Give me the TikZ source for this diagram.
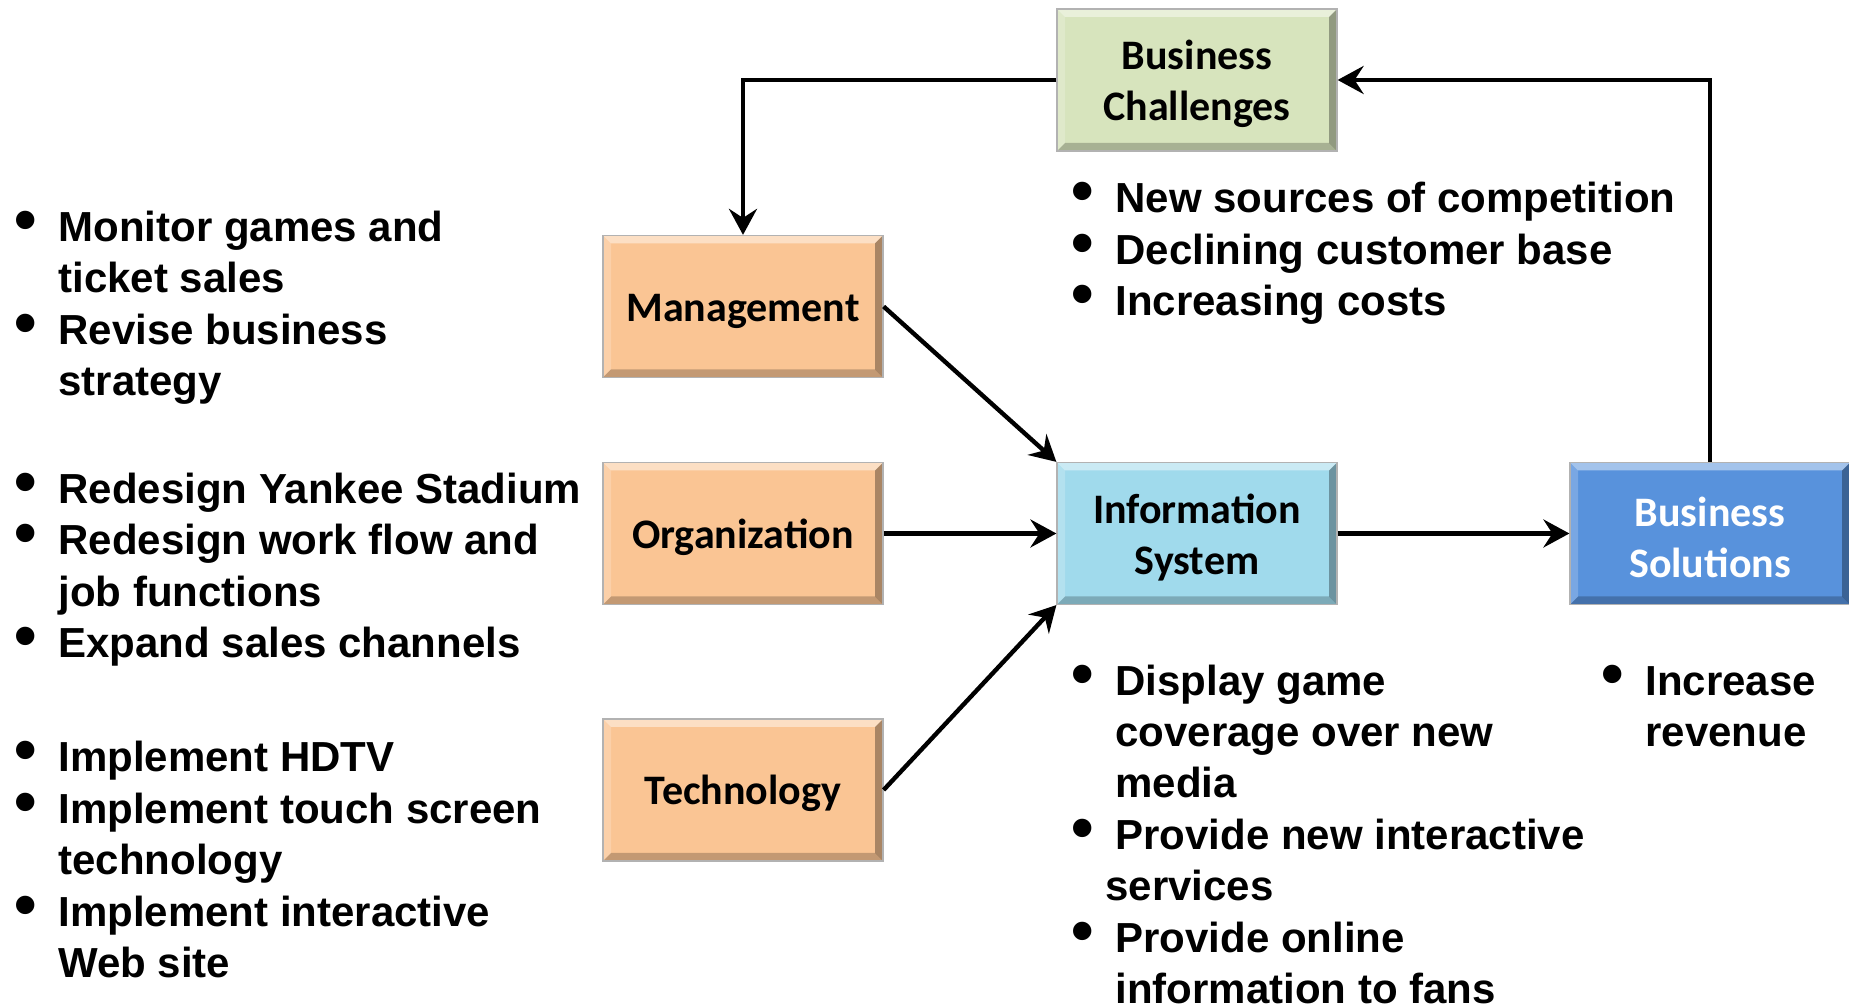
\documentclass[tikz,border=0pt]{standalone}
\usepackage{fontspec}
\setmainfont{Liberation Sans}
\newfontfamily\boxfont{Carlito}
\usetikzlibrary{arrows.meta}

\definecolor{bcfill}{RGB}{215,228,189}
\definecolor{orfill}{RGB}{250,197,148}
\definecolor{isfill}{RGB}{160,218,236}
\definecolor{bsfill}{RGB}{88,146,220}

\newcommand\bul{\llap{\makebox[22pt][l]{\fontsize{32pt}{32pt}\selectfont •}}}
\newcommand\topstr{\rule{0pt}{18.5pt}}

\tikzset{
  bevel/.style={path picture={
    \fill[white,opacity=.45] (path picture bounding box.north west) -- (path picture bounding box.north east)
       -- ([shift={(-4pt,-4pt)}]path picture bounding box.north east) -- ([shift={(4pt,-4pt)}]path picture bounding box.north west) -- cycle;
    \fill[white,opacity=.2] (path picture bounding box.north west) -- ([shift={(4pt,-4pt)}]path picture bounding box.north west)
       -- ([shift={(4pt,4pt)}]path picture bounding box.south west) -- (path picture bounding box.south west) -- cycle;
    \fill[black,opacity=.22] (path picture bounding box.south west) -- ([shift={(4pt,4pt)}]path picture bounding box.south west)
       -- ([shift={(-4pt,4pt)}]path picture bounding box.south east) -- (path picture bounding box.south east) -- cycle;
    \fill[black,opacity=.32] (path picture bounding box.south east) -- ([shift={(-4pt,4pt)}]path picture bounding box.south east)
       -- ([shift={(-4pt,-4pt)}]path picture bounding box.north east) -- (path picture bounding box.north east) -- cycle;
  }},
  blk/.style={bevel, draw=black!30, line width=0.6pt, minimum width=140pt, minimum height=71pt,
    inner sep=0pt, align=center, font=\boxfont\bfseries\fontsize{21pt}{25.5pt}\selectfont},
  txt/.style={anchor=base west, inner sep=0pt, align=left, font=\bfseries\fontsize{21pt}{25.7pt}\selectfont},
  ar/.style={line width=2.2pt, -{Stealth[length=13pt,width=14pt,inset=4.5pt]}}
}

\begin{document}
\begin{tikzpicture}[x=0.5pt,y=-0.5pt]
\useasboundingbox (0,0) rectangle (1849,1004);

\node[blk, fill=bcfill] (bc) at (1197,80) {\topstr Business\\Challenges};
\node[blk, fill=orfill] (mg) at (743,306.5) {\topstr Management};
\node[blk, fill=orfill] (or) at (743,533.5) {\topstr Organization};
\node[blk, fill=orfill] (te) at (743,790) {\topstr Technology};
\node[blk, fill=isfill] (is) at (1197,533.5) {\topstr Information\\System};
\node[blk, fill=bsfill, text=white] (bs) at (1710,533.5) {\topstr Business\\Solutions};

\draw[ar] (bc.west) -| (mg.north);
\draw[ar] (bs.north) |- (bc.east);
\draw[ar] (mg.east) -- (is.north west);
\draw[ar] (or.east) -- (is.west);
\draw[ar] (te.east) -- (is.south west);
\draw[ar] (is.east) -- (bs.west);

% anchors are at the baseline of the last line of each list
\node[txt] (l1) at (58,395.5) {\bul Monitor games and\\ticket sales\\\bul Revise business\\strategy};
\node[txt] (l2) at (58,657.5) {\bul Redesign Yankee Stadium\\\bul Redesign work flow and\\job functions\\\bul Expand sales channels};
\node[txt] (l3) at (58,977.5) {\bul Implement HDTV\\\bul Implement touch screen\\technology\\\bul Implement interactive\\Web site};
\node[txt] (bct) at (1115,315.5) {\bul New sources of competition\\\bul Declining customer base\\\bul Increasing costs};
\node[txt] (ist) at (1115,1003.5) {\bul Display game\\coverage over new\\media\\\bul Provide new interactive\\\hspace*{-5pt}services\\\bul Provide online\\information to fans};
\node[txt] (bst) at (1645,746.5) {\bul Increase\\revenue};
\end{tikzpicture}
\end{document}
